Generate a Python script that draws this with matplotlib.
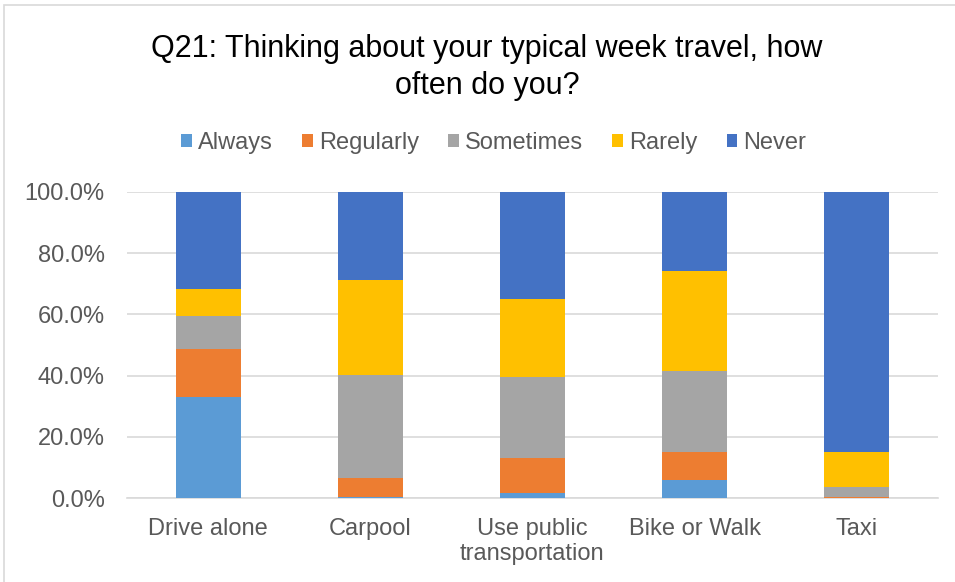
import matplotlib
matplotlib.use("Agg")
import matplotlib.pyplot as plt
import numpy as np
from matplotlib.patches import Rectangle

plt.rcParams["font.family"] = ["Liberation Sans", "DejaVu Sans"]

# Share of respondents per travel mode (fractions of 1)
modes = ["Drive alone", "Carpool", "Use public\ntransportation", "Bike or Walk", "Taxi"]
always = [0.330, 0.004, 0.016, 0.059, 0.000]
regularly = [0.156, 0.063, 0.114, 0.092, 0.004]
sometimes = [0.108, 0.335, 0.267, 0.263, 0.033]
rarely = [0.088, 0.310, 0.253, 0.327, 0.114]
never = [0.318, 0.288, 0.350, 0.259, 0.849]

series_names = ["Always", "Regularly", "Sometimes", "Rarely", "Never"]
series_colors = ["#5B9BD5", "#ED7D31", "#A5A5A5", "#FFC000", "#4472C4"]

fig = plt.figure(figsize=(9.55, 5.82), dpi=100)
ax = fig.add_axes([0.133, 0.1438, 0.849, 0.5268])

x = np.arange(len(modes))
bottom = np.zeros(len(modes))
handles = []
for name, vals, col in zip(series_names, [always, regularly, sometimes, rarely, never], series_colors):
    b = ax.bar(x, vals, 0.4, bottom=bottom, color=col, label=name, zorder=3)
    handles.append(b)
    bottom += np.array(vals)

ax.set_xlim(-0.5, len(modes) - 0.5)
ax.set_ylim(0, 1.0)
ax.set_yticks(np.arange(0, 1.01, 0.2))
ax.set_yticklabels([f"{v * 100:.1f}%" for v in np.arange(0, 1.01, 0.2)])
ax.set_xticks(x)
ax.set_xticklabels(modes, linespacing=1.2)
ax.tick_params(axis="both", length=0, labelsize=17, colors="#595959")
ax.tick_params(axis="x", pad=14)
ax.tick_params(axis="y", pad=16)
ax.grid(axis="y", color="#D9D9D9", linewidth=1.2, zorder=0)
for side in ["top", "right", "left"]:
    ax.spines[side].set_visible(False)
ax.spines["bottom"].set_color("#D9D9D9")
ax.spines["bottom"].set_linewidth(1.2)

fig.text(0.51, 0.884, "Q21: Thinking about your typical week travel, how\noften do you?",
         ha="center", va="center", fontsize=22, color="#000000", linespacing=1.3)

fig.legend(handles=handles, loc="center", bbox_to_anchor=(0.517, 0.755), ncol=5,
           frameon=False, fontsize=17, labelcolor="#595959",
           handlelength=0.45, handleheight=0.45, handletextpad=0.25, columnspacing=1.25)

# outer chart frame
fig.patches.append(Rectangle((4 / 955, -0.1), 1.2, 1 - 5 / 582 + 0.1,
                             transform=fig.transFigure, fill=False,
                             edgecolor="#D9D9D9", linewidth=1.2))

fig.savefig("out.png", dpi=100)
